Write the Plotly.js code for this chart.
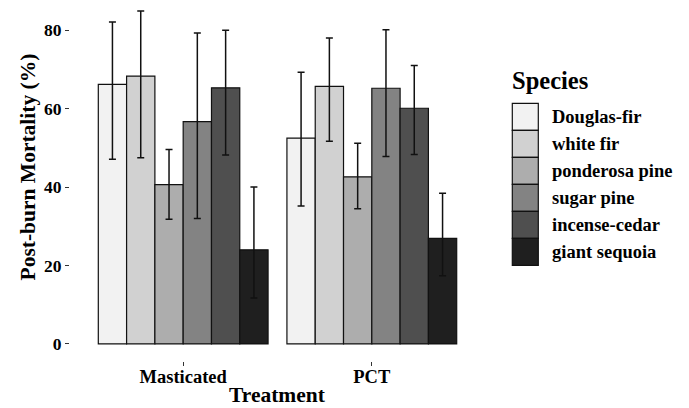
<!DOCTYPE html>
<html><head><meta charset="utf-8">
<script src="https://cdn.plot.ly/plotly-3.0.1.min.js"></script>
<style>html,body{margin:0;padding:0;background:#fff}</style>
</head><body><div id="chart" style="width:689px;height:408px"></div>
<script>
const treatments = ["Masticated", "PCT"];
const species = ["Douglas-fir", "white fir", "ponderosa pine", "sugar pine", "incense-cedar", "giant sequoia"];
const colors = ["#F2F2F2", "#D1D1D1", "#ADADAD", "#838383", "#4F4F4F", "#1F1F1F"];
// mean mortality per species for [Masticated, PCT]
const meanDouglasFir = [66.2, 52.5];
const meanWhiteFir = [68.3, 65.7];
const meanPonderosa = [40.6, 42.6];
const meanSugarPine = [56.7, 65.2];
const meanIncenseCedar = [65.3, 60.1];
const meanGiantSequoia = [24.0, 26.9];
// upper and lower error bar ends
const upperDouglasFir = [82.1, 69.3];
const upperWhiteFir = [84.9, 78.0];
const upperPonderosa = [49.6, 51.2];
const upperSugarPine = [79.3, 80.1];
const upperIncenseCedar = [80.0, 71.0];
const upperGiantSequoia = [40.0, 38.4];
const lowerDouglasFir = [47.1, 35.2];
const lowerWhiteFir = [47.5, 51.7];
const lowerPonderosa = [31.8, 34.5];
const lowerSugarPine = [32.0, 47.8];
const lowerIncenseCedar = [48.2, 48.3];
const lowerGiantSequoia = [11.7, 17.4];
const yTicks = [0, 20, 40, 60, 80];
const xTitle = "Treatment";
const yTitle = "Post-burn Mortality (%)";
const legendTitle = "Species";

const means = [meanDouglasFir, meanWhiteFir, meanPonderosa, meanSugarPine, meanIncenseCedar, meanGiantSequoia];
const uppers = [upperDouglasFir, upperWhiteFir, upperPonderosa, upperSugarPine, upperIncenseCedar, upperGiantSequoia];
const lowers = [lowerDouglasFir, lowerWhiteFir, lowerPonderosa, lowerSugarPine, lowerIncenseCedar, lowerGiantSequoia];

const font = {family: "Liberation Serif, Times New Roman, serif", color: "#000", weight: "bold"};
const f = s => Object.assign({}, font, {size: s});
const traces = species.map((s, i) => ({
  type: "bar", name: s, x: treatments, y: means[i],
  marker: {color: colors[i], line: {color: "#111", width: 1.2}},
  error_y: {type: "data", symmetric: false,
    array: means[i].map((m, j) => uppers[i][j] - m),
    arrayminus: means[i].map((m, j) => m - lowers[i][j]),
    color: "#111", thickness: 1.5, width: 3.5},
  showlegend: false, hoverinfo: "skip"
}));

// manual legend and titles (pixel geometry -> paper coords)
const L = 70, R = 485, T = 0, B = 361;
const px = v => (v - L) / (R - L);
const py = v => (B - v) / (B - T);
const shapes = [], annotations = [];
const boxTop = 103.3, boxH = 27, boxL = 512.3, boxR = 538.3;
species.forEach((s, i) => {
  const y0 = boxTop + i * boxH;
  shapes.push({type: "rect", xref: "paper", yref: "paper", x0: px(boxL), x1: px(boxR),
    y0: py(y0 + boxH), y1: py(y0), fillcolor: colors[i], line: {color: "#111", width: 1.2}});
  annotations.push({xref: "paper", yref: "paper", x: px(550), y: py(y0 + boxH / 2),
    xanchor: "left", yanchor: "middle", text: s, showarrow: false, font: f(18.5)});
});
annotations.push({xref: "paper", yref: "paper", x: px(509.5), y: py(80), xanchor: "left", yanchor: "middle",
  text: legendTitle, showarrow: false, font: f(24.5)});
annotations.push({xref: "paper", yref: "paper", x: px(277.5), y: py(408), xanchor: "center", yanchor: "bottom",
  borderpad: 0, text: xTitle, showarrow: false, font: f(21.5)});
annotations.push({xref: "paper", yref: "paper", x: px(27), y: py(167.5), xanchor: "center", yanchor: "middle",
  text: yTitle, textangle: -90, showarrow: false, font: f(21.5)});

const layout = {
  width: 689, height: 408,
  margin: {l: L, r: 689 - R, t: T, b: 408 - B},
  paper_bgcolor: "#fff", plot_bgcolor: "#fff",
  barmode: "group", bargap: 0.1, bargroupgap: 0,
  showlegend: false,
  font: font,
  xaxis: {range: [-0.6, 1.6], showgrid: false, zeroline: false, showline: false,
    ticks: "outside", ticklen: 4, tickcolor: "#333", tickwidth: 1,
    ticklabelstandoff: -5,
    tickfont: f(18.5)},
  yaxis: {range: [-4.35, 87.7], showgrid: false, zeroline: false, showline: false,
    tickvals: yTicks, ticktext: yTicks.map(String),
    ticks: "outside", ticklen: 4, tickcolor: "#333", tickwidth: 1,
    tickfont: f(17.5)},
  shapes: shapes, annotations: annotations
};
Plotly.newPlot("chart", traces, layout, {displayModeBar: false, staticPlot: true});
</script></body></html>
